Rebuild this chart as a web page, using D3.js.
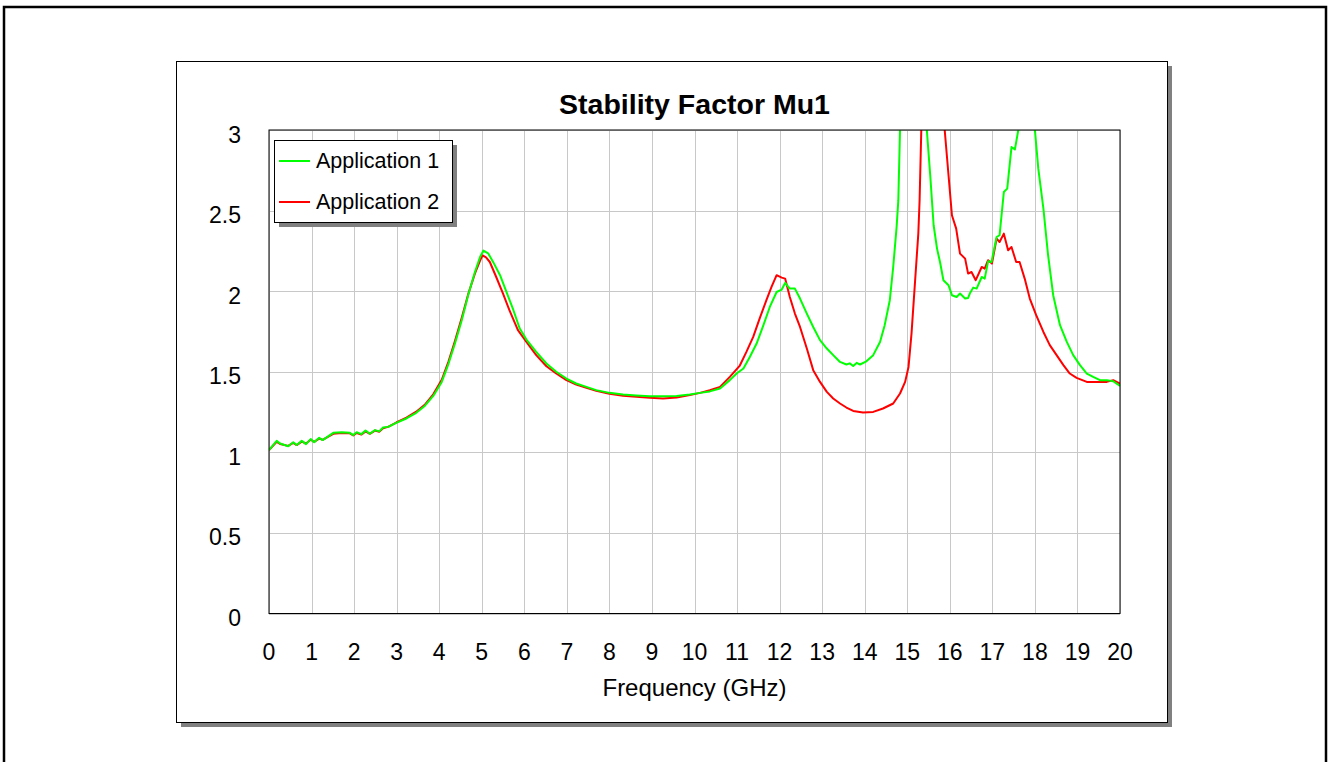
<!DOCTYPE html>
<html>
<head>
<meta charset="utf-8">
<script src="https://cdn.jsdelivr.net/npm/d3@7"></script>
<style>
  html, body { margin: 0; padding: 0; background: #fff; }
  svg { display: block; }
  text { font-family: "Liberation Sans", Arial, sans-serif; fill: #000; }
</style>
</head>
<body>
<svg id="chart" width="1330" height="762"></svg>
<script>
const chartTitle = "Stability Factor Mu1";
const xAxisTitle = "Frequency (GHz)";
const seriesNames = ["Application 1", "Application 2"];
const seriesColors = ["#00ff00", "#ff0000"];
const xTicks = [0,1,2,3,4,5,6,7,8,9,10,11,12,13,14,15,16,17,18,19,20];
const yTicks = [0, 0.5, 1, 1.5, 2, 2.5, 3];
const yTickLabels = ["0", "0.5", "1", "1.5", "2", "2.5", "3"];

const app1Freq = [0.00,0.18,0.26,0.45,0.57,0.65,0.77,0.87,0.98,1.06,1.18,1.26,1.51,1.71,1.90,1.98,2.06,2.17,2.27,2.37,2.49,2.59,2.68,2.80,2.99,3.23,3.46,3.66,3.86,4.06,4.22,4.37,4.53,4.68,4.84,4.96,5.04,5.15,5.27,5.43,5.58,5.74,5.89,6.05,6.28,6.52,6.75,6.99,7.22,7.46,7.69,8.00,8.32,8.63,8.95,9.26,9.58,9.89,10.13,10.36,10.60,10.83,10.99,11.15,11.30,11.46,11.62,11.77,11.93,12.05,12.13,12.24,12.36,12.48,12.64,12.79,12.95,13.11,13.26,13.42,13.57,13.65,13.73,13.81,13.89,14.04,14.20,14.36,14.47,14.59,14.67,14.75,14.79,14.83,14.95,15.35,15.46,15.54,15.62,15.70,15.77,15.85,15.97,16.05,16.16,16.24,16.36,16.43,16.47,16.55,16.63,16.75,16.82,16.90,16.98,17.10,17.17,17.27,17.35,17.45,17.53,17.61,17.70,17.90,18.00,18.08,18.20,18.31,18.43,18.59,18.75,18.90,19.06,19.22,19.37,19.53,19.69,19.84,20.00];
const app1Mu = [1.014,1.071,1.055,1.038,1.063,1.045,1.071,1.051,1.082,1.063,1.090,1.076,1.121,1.125,1.121,1.107,1.125,1.113,1.136,1.115,1.138,1.130,1.154,1.158,1.183,1.210,1.245,1.288,1.350,1.437,1.551,1.675,1.820,1.975,2.119,2.212,2.252,2.235,2.180,2.099,1.995,1.885,1.770,1.700,1.623,1.551,1.500,1.458,1.427,1.406,1.386,1.369,1.359,1.353,1.348,1.348,1.350,1.359,1.369,1.378,1.396,1.448,1.489,1.520,1.592,1.675,1.789,1.902,1.995,2.010,2.051,2.016,2.016,1.954,1.861,1.778,1.696,1.644,1.603,1.561,1.545,1.552,1.536,1.555,1.545,1.565,1.603,1.685,1.789,1.944,2.150,2.398,2.563,3.000,4.500,4.500,3.000,2.719,2.409,2.264,2.181,2.068,2.037,1.975,1.964,1.985,1.954,1.958,1.985,2.022,2.016,2.088,2.078,2.185,2.181,2.336,2.347,2.615,2.636,2.894,2.880,3.000,4.000,4.000,3.000,2.760,2.512,2.223,1.975,1.789,1.685,1.603,1.541,1.489,1.468,1.448,1.448,1.441,1.412];

const app2Freq = [0.00,0.18,0.26,0.45,0.57,0.65,0.77,0.87,0.98,1.06,1.18,1.26,1.51,1.71,1.90,1.98,2.06,2.17,2.27,2.37,2.49,2.59,2.68,2.80,2.99,3.23,3.46,3.66,3.86,4.06,4.22,4.37,4.53,4.68,4.84,4.96,5.02,5.10,5.19,5.34,5.50,5.65,5.85,6.05,6.28,6.52,6.75,6.99,7.22,7.46,7.69,8.00,8.32,8.63,8.95,9.26,9.58,9.89,10.13,10.36,10.60,10.83,11.06,11.22,11.38,11.53,11.69,11.81,11.93,12.05,12.13,12.24,12.36,12.48,12.64,12.79,12.95,13.11,13.26,13.42,13.57,13.73,13.96,14.20,14.43,14.67,14.83,14.95,15.03,15.10,15.18,15.26,15.29,15.33,15.45,15.78,15.88,15.97,16.05,16.15,16.24,16.36,16.43,16.51,16.61,16.75,16.82,16.90,16.99,17.10,17.17,17.27,17.37,17.45,17.56,17.64,17.76,17.88,18.03,18.20,18.35,18.51,18.67,18.82,18.98,19.22,19.45,19.69,19.84,20.00];
const app2Mu = [1.014,1.065,1.052,1.040,1.058,1.045,1.066,1.055,1.078,1.065,1.085,1.078,1.115,1.120,1.118,1.105,1.120,1.110,1.130,1.115,1.135,1.128,1.150,1.158,1.185,1.215,1.252,1.295,1.360,1.450,1.565,1.690,1.835,1.980,2.110,2.190,2.222,2.210,2.181,2.088,1.985,1.882,1.758,1.685,1.603,1.534,1.489,1.448,1.421,1.400,1.382,1.363,1.351,1.345,1.338,1.334,1.340,1.355,1.369,1.385,1.406,1.468,1.536,1.623,1.716,1.830,1.944,2.026,2.099,2.084,2.078,1.964,1.861,1.778,1.644,1.510,1.437,1.375,1.334,1.303,1.278,1.257,1.247,1.251,1.272,1.303,1.365,1.437,1.530,1.737,2.047,2.357,2.563,3.000,4.500,4.500,3.000,2.719,2.471,2.388,2.233,2.202,2.109,2.119,2.068,2.150,2.140,2.192,2.171,2.326,2.305,2.357,2.254,2.274,2.181,2.181,2.078,1.954,1.851,1.747,1.665,1.603,1.541,1.489,1.462,1.437,1.437,1.437,1.448,1.427];

const svg = d3.select("#chart");

// outer border
svg.append("rect").attr("x", 4).attr("y", 7).attr("width", 1322).attr("height", 820)
  .attr("fill", "#fff").attr("stroke", "#000").attr("stroke-width", 2.5);

// chart frame with shadow
const frame = {x: 176, y: 61, w: 991, h: 661};
svg.append("rect").attr("x", frame.x + 5).attr("y", frame.y + 5).attr("width", frame.w).attr("height", frame.h)
  .attr("fill", "#808080");
svg.append("rect").attr("x", frame.x + 0.5).attr("y", frame.y + 0.5).attr("width", frame.w).attr("height", frame.h)
  .attr("fill", "#fff").attr("stroke", "#000").attr("stroke-width", 1);

const plot = {left: 269, right: 1120, top: 130, bottom: 613.5};
const x = d3.scaleLinear().domain([0, 20]).range([plot.left, plot.right]);
const y = d3.scaleLinear().domain([0, 3]).range([plot.bottom, plot.top]);

// grid
const g = svg.append("g");
g.selectAll(".vg").data(xTicks).enter().append("line")
  .attr("x1", d => Math.round(x(d)) + 0.5).attr("x2", d => Math.round(x(d)) + 0.5)
  .attr("y1", plot.top).attr("y2", plot.bottom)
  .attr("stroke", "#c8c8c8").attr("stroke-width", 1);
g.selectAll(".hg").data(yTicks).enter().append("line")
  .attr("x1", plot.left).attr("x2", plot.right)
  .attr("y1", d => Math.round(y(d)) + 0.5).attr("y2", d => Math.round(y(d)) + 0.5)
  .attr("stroke", "#c8c8c8").attr("stroke-width", 1);

// clip
svg.append("clipPath").attr("id", "clip").append("rect")
  .attr("x", plot.left).attr("y", plot.top).attr("width", plot.right - plot.left).attr("height", plot.bottom - plot.top);

const line = d3.line().x(d => x(d[0])).y(d => y(d[1]));
const series = [
  {name: seriesNames[0], color: seriesColors[0], pts: app1Freq.map((f, i) => [f, app1Mu[i]])},
  {name: seriesNames[1], color: seriesColors[1], pts: app2Freq.map((f, i) => [f, app2Mu[i]])}
];
const lines = svg.append("g").attr("clip-path", "url(#clip)");
[series[1], series[0]].forEach(s => {
  lines.append("path").attr("d", line(s.pts)).attr("fill", "none")
    .attr("stroke", s.color).attr("stroke-width", 2).attr("stroke-linejoin", "round");
});

// plot frame
svg.append("rect").attr("x", plot.left).attr("y", plot.top).attr("width", plot.right - plot.left).attr("height", plot.bottom - plot.top)
  .attr("fill", "none").attr("stroke", "#000").attr("stroke-width", 1);

// y tick labels
svg.selectAll(".yl").data(yTicks).enter().append("text")
  .attr("x", 241).attr("y", d => y(d) + 12.5).attr("text-anchor", "end")
  .style("font-size", "23px").text((d, i) => yTickLabels[i]);

// x tick labels
svg.selectAll(".xl").data(xTicks).enter().append("text")
  .attr("x", d => x(d)).attr("y", 660).attr("text-anchor", "middle")
  .style("font-size", "23px").text(d => d);

// axis title
svg.append("text").attr("x", (plot.left + plot.right) / 2).attr("y", 696).attr("text-anchor", "middle")
  .style("font-size", "24px").text(xAxisTitle);

// chart title
svg.append("text").attr("x", (plot.left + plot.right) / 2).attr("y", 114).attr("text-anchor", "middle")
  .style("font-size", "28.5px").style("font-weight", "bold").text(chartTitle);

// legend
const lg = {x: 274, y: 140, w: 178, h: 82};
svg.append("rect").attr("x", lg.x + 5).attr("y", lg.y + 5).attr("width", lg.w).attr("height", lg.h).attr("fill", "#808080");
svg.append("rect").attr("x", lg.x + 0.5).attr("y", lg.y + 0.5).attr("width", lg.w).attr("height", lg.h)
  .attr("fill", "#fff").attr("stroke", "#000").attr("stroke-width", 1);
series.forEach((s, i) => {
  const cy = 161 + i * 41;
  svg.append("line").attr("x1", 279).attr("x2", 310).attr("y1", cy).attr("y2", cy)
    .attr("stroke", s.color).attr("stroke-width", 2);
  svg.append("text").attr("x", 316).attr("y", cy + 6.5)
    .style("font-size", "21.5px").text(s.name);
});
</script>
</body>
</html>
